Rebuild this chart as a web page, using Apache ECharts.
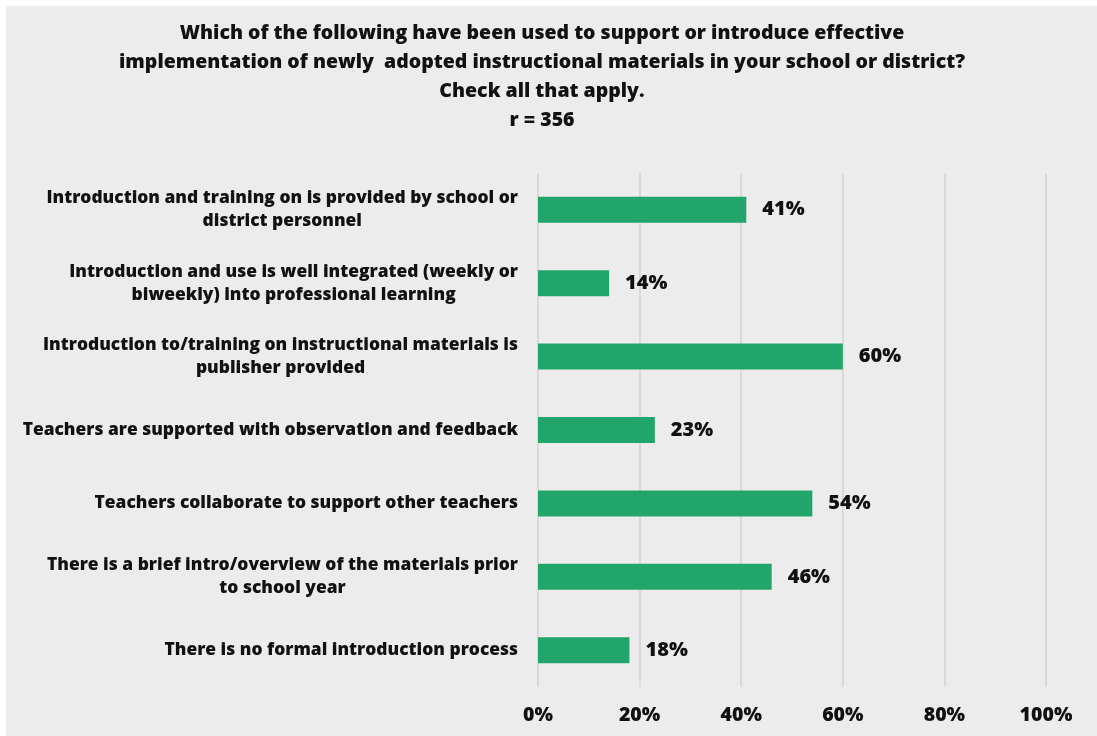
<!DOCTYPE html>
<html>
<head>
<meta charset="utf-8">
<script src="https://cdn.jsdelivr.net/npm/echarts@6/dist/echarts.min.js"></script>
<style>
  html, body { margin: 0; padding: 0; background: #ffffff; }
  #chart { position: absolute; left: 6px; top: 6px; width: 1091px; height: 730px; }
</style>
</head>
<body>
<div id="chart"></div>
<script>
// categories, top to bottom
var categories = [
  'Introduction and training on is provided by school or\ndistrict personnel',
  'Introduction and use is well integrated (weekly or\nbiweekly) into professional learning',
  'Introduction to/training on instructional materials is\npublisher provided',
  'Teachers are supported with observation and feedback',
  'Teachers collaborate to support other teachers',
  'There is a brief intro/overview of the materials prior\nto school year',
  'There is no formal introduction process'
];
var percentValues = [41, 14, 60, 23, 54, 46, 18];
var tickValues = [0, 20, 40, 60, 80, 100];

var titleText = 'Which of the following have been used to support or introduce effective\n' +
  'implementation of newly  adopted instructional materials in your school or district?\n' +
  'Check all that apply.\n' +
  'r = 356';

var fontName = 'Open Sans';
var textColor = '#111111';

var chart = echarts.init(document.getElementById('chart'));
var option = {
  backgroundColor: '#ececec',
  animation: false,
  title: {
    text: titleText,
    left: 536,
    top: 13,
    padding: 0,
    textAlign: 'center',
    textStyle: {
      fontFamily: fontName,
      fontWeight: 800,
      fontSize: 19.5,
      lineHeight: 29,
      color: textColor
    }
  },
  grid: {
    left: 532,
    right: 51,
    top: 167,
    bottom: 49
  },
  xAxis: {
    type: 'value',
    min: tickValues[0],
    max: tickValues[tickValues.length - 1],
    interval: 20,
    axisLine: { show: false },
    axisTick: { show: false },
    splitLine: { lineStyle: { color: '#d9d9d9', width: 2 } },
    axisLabel: {
      margin: 18,
      formatter: '{value}%',
      fontFamily: fontName,
      fontWeight: 800,
      fontSize: 19.5,
      color: textColor
    }
  },
  yAxis: {
    type: 'category',
    inverse: true,
    data: categories,
    axisLine: { show: false },
    axisTick: { show: false },
    axisLabel: {
      margin: 20,
      formatter: function (val) {
        return val.split('\n').map(function (s) { return '{c|' + s + '}'; }).join('\n');
      },
      rich: {
        c: {
          align: 'center',
          fontFamily: fontName,
          fontWeight: 800,
          fontSize: 17.4,
          lineHeight: 23,
          color: textColor
        }
      }
    }
  },
  series: [{
    type: 'bar',
    data: percentValues,
    barWidth: 26,
    itemStyle: { color: '#22a56b' },
    label: {
      show: true,
      position: 'right',
      distance: 16,
      formatter: '{c}%',
      fontFamily: fontName,
      fontWeight: 800,
      fontSize: 20,
      color: textColor
    }
  }]
};
chart.setOption(option);
</script>
</body>
</html>
